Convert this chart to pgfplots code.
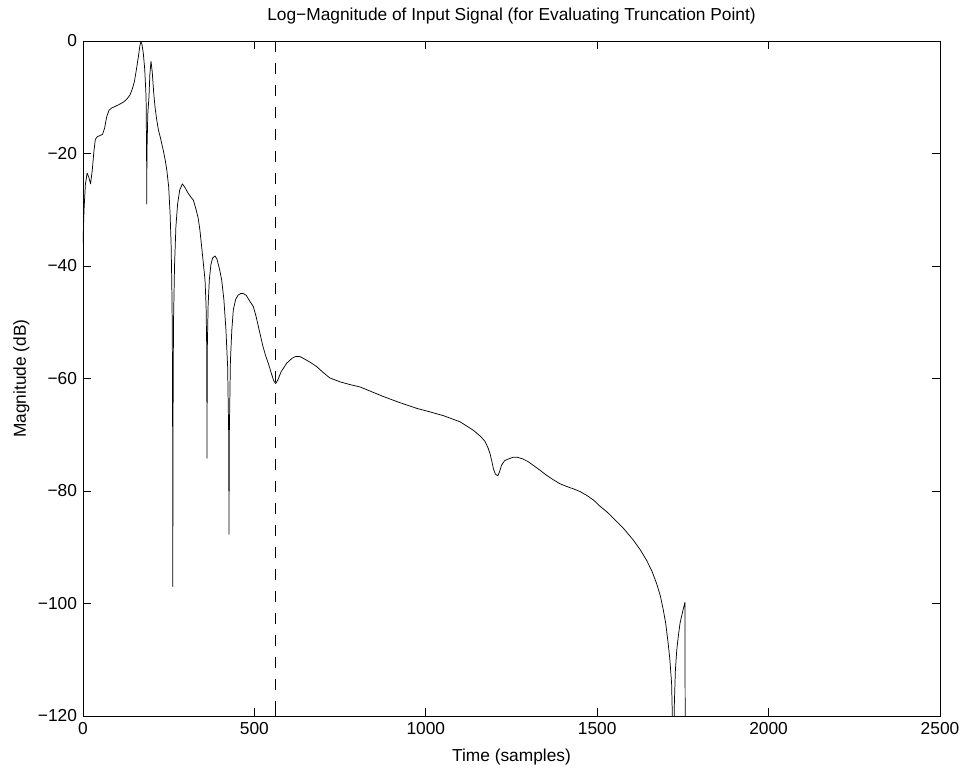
\documentclass[border=0pt]{standalone}
\usepackage{pgfplots}
\pgfplotsset{compat=1.18}
\usepackage{fontspec}
\setmainfont{Liberation Sans}
\begin{document}
\fontsize{13}{15}\selectfont
\begin{tikzpicture}
\begin{axis}[
  name=ax,
  at={(0,0)}, anchor=south west,
  scale only axis,
  width=642.75pt, height=506.25pt,
  xmin=0, xmax=2500, ymin=-120, ymax=0,
  xtick={0,500,1000,1500,2000,2500},
  ytick={-120,-100,-80,-60,-40,-20,0},
  yticklabels={−120,−100,−80,−60,−40,−20,0},
  extra x ticks={561},
  extra x tick labels={},
  scaled x ticks=false,
  /pgf/number format/assume math mode=true,
  /pgf/number format/1000 sep={},
  tick align=inside,
  major tick length=6pt,
  tick style={black, line width=0.6pt},
  axis line style={line width=0.7pt},
  tick label style={font=\fontsize{13}{15}\selectfont},
  label style={font=\fontsize{13}{15}\selectfont},
  title style={font=\fontsize{13}{15}\selectfont, yshift=2.5pt},
  title={Log−Magnitude of Input Signal (for Evaluating Truncation Point)},
  xlabel={Time (samples)},
  ylabel={Magnitude (dB)},
  xlabel style={yshift=-2pt},
  ylabel style={yshift=-2.5pt},
  clip=true,
]
\addplot[black, line width=0.55pt, line join=round] coordinates {
(0,-36) (3,-30) (7,-25.5) (12,-23.5) (17,-24.2) (22,-25.4) (27,-23) (32,-19.5) (36,-17.5) (42,-17) (50,-16.8) (57,-16.6) (63,-15.5) (69,-13.5) (76,-12.3) (84,-11.9) (95,-11.6) (105,-11.3) (117,-10.9) (127,-10.4) (137,-9.6) (144,-8.5) (150,-7.2) (156,-5) (162,-2.6) (166,-0.8) (169,-0.1) (172,-0.6) (176,-2.2) (180,-5) (184,-9.9) (185.5,-20) (186,-29) (186.5,-20) (189,-13) (192.5,-9.9) (195,-6) (198.4,-3.6) (202,-5.5) (206,-9) (210,-11.7) (215,-14) (220,-15.8) (227,-17.5) (234,-19.4) (240,-21.2) (245,-23.2) (250,-26) (254,-30.6) (257,-36) (259,-43) (260.5,-51.4) (261.5,-70) (262,-97) (262.5,-70) (264,-50) (267,-40) (271,-33) (276,-29) (282,-26.5) (290,-25.4) (298,-26.1) (306,-27) (314,-27.7) (322,-28.3) (330,-30) (336,-31.5) (341,-33.6) (346,-36.5) (351,-39.5) (356,-42.5) (359,-47) (361,-55) (361.7,-74.2) (362.5,-55) (365,-47) (368.5,-42.5) (373,-39.8) (378,-38.6) (385,-38.2) (391,-38.8) (398,-40.5) (404.6,-42.5) (411,-46) (417,-51.4) (422,-58) (425,-70) (425.9,-87.7) (426.8,-70) (430,-57) (434,-51.5) (438.5,-47.8) (445,-46) (452,-45.2) (460,-44.9) (467.6,-44.9) (476,-45.2) (486,-46.2) (496.8,-47.2) (505,-49) (514,-51.4) (525,-54.3) (533,-56) (540.6,-57.3) (550,-59.2) (557,-60.5) (562,-60.9) (568,-60.3) (578,-58.8) (594,-57.3) (610,-56.4) (620,-56.1) (633,-56.1) (648,-56.6) (665,-57.2) (682,-57.9) (700,-58.9) (720,-59.9) (750,-60.6) (780,-61.1) (808,-61.5) (840,-62.3) (876,-63.2) (920,-64.2) (973,-65.3) (1010,-65.9) (1051,-66.6) (1100,-67.7) (1138.6,-69.2) (1160,-70.3) (1173,-71.2) (1182,-72.4) (1187,-73.3) (1193,-74.8) (1197,-76.0) (1203,-77.0) (1210,-77.3) (1215,-76.6) (1221,-75.4) (1230,-74.6) (1241,-74.3) (1255,-74.0) (1267,-74.0) (1283,-74.3) (1299,-74.8) (1315,-75.5) (1333,-76.3) (1352,-77.2) (1372,-78.0) (1391,-78.7) (1411,-79.2) (1430,-79.6) (1450,-80.1) (1470,-80.8) (1489,-81.6) (1508,-82.7) (1528,-83.7) (1550,-85.0) (1576,-86.6) (1605,-88.7) (1625,-90.4) (1644,-92.3) (1660,-94.3) (1673,-96.4) (1684,-98.6) (1693,-101.2) (1700,-103.6) (1707,-107.1) (1712,-110) (1717,-114.2) (1720,-122) (1721,-135) (1723,-135) (1725,-118) (1728,-112) (1732,-108.3) (1737,-105.6) (1741.6,-103.5) (1749,-101.5) (1756,-99.8) (1757,-135)
};
\addplot[black, line width=0.55pt, dash pattern=on 8pt off 8.5pt] coordinates {(561,0) (561,-120)};
\end{axis}
\pgfresetboundingbox
\path[use as bounding box] ([xshift=-62.25pt,yshift=-38.25pt]ax.south west) rectangle ([xshift=16.5pt,yshift=30.75pt]ax.north east);
\end{tikzpicture}
\end{document}
